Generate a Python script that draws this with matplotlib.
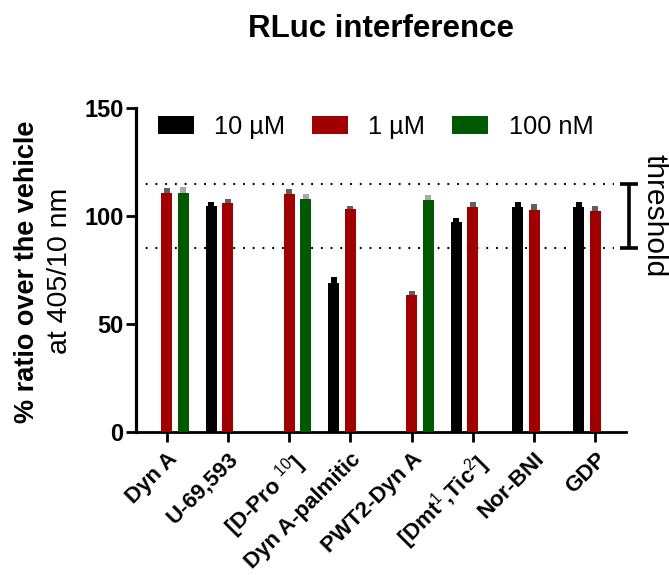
import numpy as np
import matplotlib.pyplot as plt
from matplotlib import transforms

plt.rcParams['font.family'] = ['Liberation Sans', 'DejaVu Sans']
plt.rcParams['mathtext.fontset'] = 'custom'
plt.rcParams['mathtext.rm'] = 'Liberation Sans'
plt.rcParams['mathtext.it'] = 'Liberation Sans:italic'
plt.rcParams['mathtext.bf'] = 'Liberation Sans:bold'

compounds = ['Dyn A', 'U-69,593', r'[D-Pro $^{10}$]', 'Dyn A-palmitic',
             'PWT2-Dyn A', r'[Dmt$^{\mathit{1}}$,Tic$^{2}$]', 'Nor-BNI', 'GDP']
doses = ['10 µM', '1 µM', '100 nM']

nan = np.nan
mean_10uM = [nan, 104.6, nan, 69.0, nan, 97.4, 104.3, 104.3]
sem_10uM = [nan, 1.7, nan, 2.6, nan, 1.7, 2.0, 2.0]
mean_1uM = [110.7, 106.0, 110.2, 103.1, 63.4, 104.3, 102.9, 102.4]
sem_1uM = [2.1, 2.0, 2.4, 1.5, 2.1, 2.0, 2.5, 2.2]
mean_100nM = [110.7, nan, 108.0, nan, 107.3, nan, nan, nan]
sem_100nM = [2.6, nan, 2.0, nan, 2.6, nan, nan, nan]

threshold_low, threshold_high = 85, 115

bar_colors = ['#000000', '#a00000', '#005800']
err_colors = ['#000000', '#606060', '#a8a8a8']
offsets = [-0.27, 0.0, 0.27]
bar_w = 0.18
err_w = 0.10

fig = plt.figure(figsize=(6.69, 5.75), dpi=100)
ax = fig.add_axes([0.2033, 0.2487, 0.7324, 0.5635])

x = np.arange(len(compounds))
series = [(mean_10uM, sem_10uM), (mean_1uM, sem_1uM), (mean_100nM, sem_100nM)]
for i, (means, sems) in enumerate(series):
    means = np.array(means, dtype=float)
    sems = np.array(sems, dtype=float)
    ok = ~np.isnan(means)
    xs = x[ok] + offsets[i]
    # SEM drawn as a short block on top of each bar
    ax.bar(xs, sems[ok], bottom=means[ok], width=err_w, color=err_colors[i],
           linewidth=0, zorder=2)
    ax.bar(xs, means[ok], width=bar_w, color=bar_colors[i], linewidth=0,
           label=doses[i], zorder=3)

# threshold band
for yv in (threshold_low, threshold_high):
    ax.plot([0.0, 0.975], [yv, yv], transform=ax.get_yaxis_transform(),
            color='black', lw=1.5, linestyle=(0, (0.9, 3.77)), clip_on=False,
            zorder=1)

trans = transforms.blended_transform_factory(ax.transAxes, ax.transData)
bx = 1.006
ax.plot([bx, bx], [threshold_low, threshold_high], transform=trans,
        color='black', lw=2.6, clip_on=False, solid_capstyle='butt')
for yv in (threshold_low, threshold_high):
    ax.plot([bx - 0.019, bx + 0.019], [yv, yv], transform=trans,
            color='black', lw=2.6, clip_on=False, solid_capstyle='butt')
ax.text(1.058, (threshold_low + threshold_high) / 2, 'threshold', transform=trans,
        rotation=-90, ha='center', va='center', fontsize=21.5)

ax.set_xlim(-0.5, 7.5)
ax.set_ylim(0, 150)
ax.set_yticks([0, 50, 100, 150])
ax.set_xticks(x)
ax.set_xticklabels(compounds, rotation=45, ha='right', va='top',
                   rotation_mode='anchor', fontweight='bold', fontsize=16)
for lbl in ax.get_yticklabels():
    lbl.set_fontweight('bold')
    lbl.set_fontsize(17)

for side in ('top', 'right'):
    ax.spines[side].set_visible(False)
ax.spines['left'].set_linewidth(2.3)
ax.spines['bottom'].set_linewidth(2.0)
ax.tick_params(axis='both', length=7, width=2.0, pad=2)
ax.tick_params(axis='x', pad=5)

leg = ax.legend(loc='center left', bbox_to_anchor=(0.045, 0.941), ncol=3,
                frameon=False, fontsize=18.3, handlelength=1.42,
                handleheight=0.71, handletextpad=0.79, columnspacing=1.06,
                borderpad=0, borderaxespad=0)

fig.text(0.040, 0.528, '% ratio over the vehicle', rotation=90, ha='center',
         va='center', fontsize=19.5, fontweight='bold')
fig.text(0.0897, 0.5296, 'at 405/10 nm', rotation=90, ha='center',
         va='center', fontsize=20.5)
fig.text(0.57, 0.95, 'RLuc interference', ha='center', va='center',
         fontsize=22.5, fontweight='bold')

fig.savefig('out.png', dpi=100)
